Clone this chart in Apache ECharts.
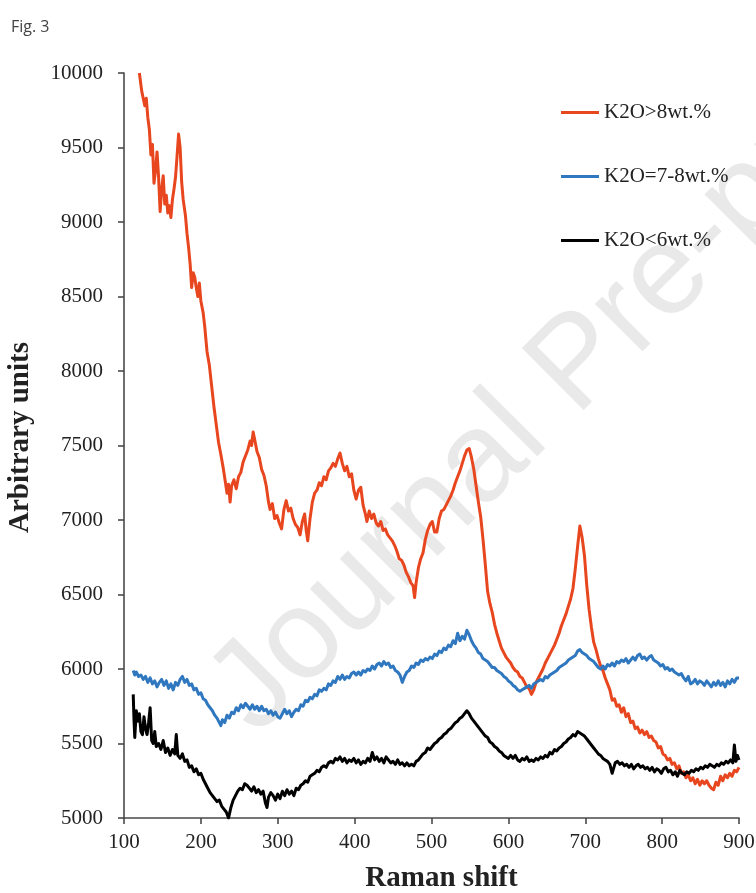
<!DOCTYPE html>
<html>
<head>
<meta charset="utf-8">
<script src="https://cdn.jsdelivr.net/npm/echarts@6/dist/echarts.min.js"></script>
<style>
  html, body { margin: 0; padding: 0; background: #ffffff; }
  #chart { width: 756px; height: 893px; }
</style>
</head>
<body>
<div id="chart"></div>
<script>
// Raman spectra, [Raman shift, intensity] pairs per K2O group
const seriesNames = ['K2O>8wt.%', 'K2O=7-8wt.%', 'K2O<6wt.%'];
const seriesColors = ['#e8461e', '#2f77bf', '#000000'];

const highK = [[120,10000],[123,9880],[125,9890],[127,9780],[129,9830],[131,9700],[133,9620],[135,9450],[137,9520],[139,9260],[141,9350],[143,9470],[145,9300],[147,9070],[149,9220],[151,9310],[153,9120],[155,9180],[157,9060],[159,9110],[161,9030],[163,9150],[165,9220],[167,9300],[169,9440],[171,9590],[173,9500],[175,9270],[177,9150],[180,9040],[182,8920],[184,8830],[186,8720],[188,8560],[190,8660],[192,8630],[194,8560],[196,8500],[198,8590],[200,8470],[203,8390],[205,8300],[208,8130],[211,8040],[214,7900],[217,7760],[220,7640],[223,7520],[226,7440],[229,7350],[232,7250],[234,7180],[236,7240],[238,7120],[240,7230],[243,7270],[246,7210],[249,7290],[252,7320],[255,7390],[258,7430],[261,7470],[264,7530],[266,7500],[268,7590],[270,7540],[273,7460],[276,7420],[279,7340],[282,7300],[285,7230],[288,7120],[290,7070],[293,7110],[296,7010],[299,7030],[302,6980],[305,6940],[308,7070],[311,7130],[314,7060],[317,7080],[320,7010],[323,6970],[326,6950],[329,6900],[332,6990],[335,7040],[337,6930],[339,6860],[342,7010],[345,7120],[348,7180],[351,7200],[354,7250],[357,7230],[360,7290],[363,7270],[366,7330],[369,7350],[372,7380],[375,7360],[378,7410],[381,7450],[384,7380],[387,7330],[390,7360],[393,7290],[396,7310],[399,7200],[402,7140],[405,7200],[408,7220],[411,7100],[414,7040],[416,6990],[419,7060],[422,7010],[425,7040],[428,6980],[431,6960],[434,6990],[437,6930],[440,6940],[443,6900],[446,6880],[449,6860],[452,6830],[455,6790],[458,6740],[461,6730],[464,6700],[467,6650],[470,6620],[473,6580],[476,6560],[478,6480],[480,6580],[483,6680],[486,6740],[489,6780],[492,6870],[495,6930],[498,6970],[501,6990],[504,6920],[507,6920],[510,7010],[513,7060],[516,7070],[519,7100],[522,7130],[525,7160],[528,7200],[531,7250],[534,7290],[537,7330],[540,7380],[543,7430],[546,7470],[549,7480],[552,7420],[555,7340],[558,7230],[561,7120],[564,7020],[567,6870],[570,6700],[573,6520],[576,6440],[579,6380],[582,6300],[585,6240],[588,6190],[591,6140],[594,6110],[597,6080],[600,6060],[603,6040],[606,6010],[609,5990],[612,5980],[615,5950],[618,5940],[621,5910],[624,5880],[627,5870],[630,5830],[633,5860],[636,5910],[639,5940],[642,5970],[645,6000],[648,6040],[651,6070],[654,6100],[657,6130],[660,6160],[663,6200],[666,6240],[669,6290],[672,6330],[675,6370],[678,6420],[681,6470],[684,6540],[687,6670],[690,6820],[693,6960],[696,6880],[699,6760],[702,6560],[705,6400],[708,6280],[711,6180],[714,6130],[717,6070],[720,6020],[723,5990],[726,5940],[729,5900],[732,5860],[735,5790],[738,5800],[741,5750],[744,5760],[747,5710],[750,5740],[753,5680],[756,5700],[759,5640],[762,5650],[765,5600],[768,5610],[771,5570],[774,5590],[777,5560],[780,5580],[783,5540],[786,5550],[789,5520],[792,5510],[795,5470],[798,5480],[801,5430],[804,5420],[807,5390],[810,5400],[813,5360],[816,5370],[819,5330],[822,5350],[825,5300],[828,5310],[831,5270],[834,5290],[837,5250],[840,5270],[843,5230],[846,5260],[849,5220],[852,5250],[855,5230],[858,5250],[861,5220],[864,5200],[867,5190],[870,5240],[873,5220],[876,5280],[879,5250],[882,5290],[885,5270],[888,5300],[891,5280],[894,5320],[897,5310],[900,5340]];

const midK = [[112,5990],[114,5960],[116,5980],[119,5950],[122,5960],[125,5930],[128,5950],[131,5910],[134,5940],[137,5900],[140,5920],[143,5880],[146,5910],[149,5930],[152,5890],[155,5920],[158,5870],[161,5900],[164,5860],[167,5910],[170,5890],[173,5930],[176,5950],[179,5910],[182,5930],[185,5890],[188,5900],[191,5860],[194,5870],[197,5830],[200,5840],[203,5800],[206,5790],[209,5760],[212,5740],[215,5720],[218,5690],[221,5670],[224,5640],[226,5620],[228,5660],[231,5640],[234,5690],[237,5670],[240,5710],[243,5700],[246,5740],[249,5720],[252,5760],[255,5740],[258,5770],[261,5750],[264,5730],[267,5760],[270,5730],[273,5750],[276,5720],[279,5750],[282,5720],[285,5730],[288,5700],[291,5720],[294,5690],[297,5710],[300,5680],[303,5670],[306,5700],[309,5730],[312,5700],[315,5720],[318,5680],[321,5710],[324,5730],[327,5720],[330,5760],[333,5750],[336,5790],[339,5780],[342,5810],[345,5800],[348,5830],[351,5820],[354,5860],[357,5850],[360,5870],[363,5860],[366,5900],[369,5890],[372,5920],[375,5910],[378,5950],[381,5930],[384,5960],[387,5930],[390,5950],[393,5940],[396,5970],[399,5980],[402,5960],[405,5980],[408,5960],[411,5990],[414,5980],[417,6000],[420,5990],[423,6020],[426,6000],[429,6030],[432,6040],[435,6020],[438,6050],[441,6030],[444,6040],[447,6010],[450,6020],[453,5990],[456,5980],[459,5960],[462,5910],[465,5950],[468,5980],[471,5990],[474,6020],[477,6010],[480,6040],[483,6030],[486,6060],[489,6050],[492,6070],[495,6060],[498,6080],[501,6070],[504,6100],[507,6090],[510,6120],[513,6110],[516,6140],[519,6130],[522,6160],[525,6150],[528,6190],[531,6170],[534,6240],[537,6190],[540,6220],[543,6200],[546,6260],[549,6230],[552,6190],[555,6160],[558,6140],[561,6110],[564,6100],[567,6070],[570,6060],[573,6050],[576,6030],[579,6010],[582,6010],[585,5990],[588,5980],[591,5970],[594,5950],[597,5940],[600,5920],[603,5910],[606,5890],[609,5880],[612,5860],[615,5850],[618,5860],[621,5870],[624,5880],[627,5890],[630,5870],[633,5900],[636,5910],[639,5920],[642,5930],[645,5920],[648,5950],[651,5940],[654,5960],[657,5970],[660,5980],[663,5990],[666,6010],[669,6020],[672,6030],[675,6040],[678,6060],[681,6070],[684,6080],[687,6090],[690,6120],[693,6130],[696,6110],[699,6100],[702,6090],[705,6070],[708,6060],[711,6050],[714,6030],[717,6010],[720,6000],[723,6020],[726,6000],[729,6030],[732,6020],[735,6040],[738,6020],[741,6050],[744,6040],[747,6060],[750,6050],[753,6070],[756,6040],[759,6060],[762,6080],[765,6060],[768,6090],[771,6100],[774,6070],[777,6080],[780,6060],[783,6080],[786,6090],[789,6060],[792,6050],[795,6040],[798,6020],[801,6030],[804,6000],[807,6010],[810,5990],[813,6000],[816,5980],[819,5970],[822,5960],[825,5970],[828,5940],[831,5920],[834,5950],[837,5900],[840,5910],[843,5930],[846,5900],[849,5920],[852,5910],[855,5890],[858,5920],[861,5900],[864,5880],[867,5910],[870,5890],[873,5920],[876,5890],[879,5910],[882,5880],[885,5920],[888,5900],[891,5930],[894,5910],[897,5940],[900,5940]];

const lowK = [[112,5830],[113,5660],[114,5540],[116,5720],[118,5650],[120,5700],[122,5580],[124,5560],[126,5680],[128,5600],[130,5560],[132,5640],[134,5740],[136,5520],[138,5500],[140,5580],[142,5480],[145,5500],[148,5460],[151,5520],[154,5440],[157,5470],[160,5420],[163,5460],[166,5430],[168,5560],[170,5420],[173,5400],[176,5430],[179,5380],[182,5390],[185,5340],[188,5350],[191,5310],[194,5330],[197,5290],[200,5300],[203,5260],[206,5230],[209,5200],[212,5170],[215,5150],[218,5130],[221,5110],[224,5120],[227,5080],[230,5060],[233,5040],[236,5000],[239,5070],[242,5120],[245,5150],[248,5180],[251,5200],[254,5190],[257,5230],[260,5220],[263,5200],[266,5180],[269,5210],[272,5170],[275,5190],[278,5160],[281,5180],[284,5100],[286,5070],[288,5140],[291,5170],[294,5150],[297,5120],[300,5160],[303,5130],[306,5180],[309,5150],[312,5190],[315,5160],[318,5180],[321,5150],[324,5200],[327,5190],[330,5220],[333,5230],[336,5250],[339,5240],[342,5280],[345,5290],[348,5300],[351,5320],[354,5310],[357,5340],[360,5350],[363,5340],[366,5370],[369,5380],[372,5370],[375,5400],[378,5390],[381,5410],[384,5380],[387,5400],[390,5370],[393,5390],[396,5380],[399,5400],[402,5370],[405,5390],[408,5360],[411,5380],[414,5370],[417,5400],[420,5380],[423,5440],[426,5390],[429,5410],[432,5380],[435,5400],[438,5370],[441,5410],[444,5390],[447,5370],[450,5380],[453,5360],[456,5390],[459,5360],[462,5370],[465,5350],[468,5370],[471,5350],[474,5360],[477,5350],[480,5380],[483,5390],[486,5410],[489,5430],[492,5440],[495,5470],[498,5460],[501,5480],[504,5500],[507,5510],[510,5530],[513,5540],[516,5560],[519,5570],[522,5590],[525,5600],[528,5620],[531,5640],[534,5650],[537,5670],[540,5680],[543,5700],[546,5720],[549,5700],[552,5670],[555,5650],[558,5630],[561,5610],[564,5590],[567,5570],[570,5550],[573,5540],[576,5510],[579,5500],[582,5480],[585,5470],[588,5450],[591,5440],[594,5420],[597,5410],[600,5400],[603,5420],[606,5400],[609,5420],[612,5390],[615,5380],[618,5400],[621,5390],[624,5410],[627,5380],[630,5390],[633,5380],[636,5400],[639,5390],[642,5410],[645,5400],[648,5420],[651,5410],[654,5440],[657,5430],[660,5460],[663,5450],[666,5470],[669,5480],[672,5500],[675,5510],[678,5530],[681,5540],[684,5560],[687,5550],[690,5580],[693,5570],[696,5560],[699,5550],[702,5530],[705,5510],[708,5490],[711,5470],[714,5450],[717,5430],[720,5420],[723,5400],[726,5390],[729,5380],[732,5360],[735,5300],[737,5310],[739,5370],[742,5380],[745,5360],[748,5370],[751,5350],[754,5360],[757,5340],[760,5360],[763,5330],[766,5350],[769,5360],[772,5340],[775,5350],[778,5330],[781,5340],[784,5320],[787,5340],[790,5310],[793,5330],[796,5320],[799,5300],[802,5330],[805,5340],[808,5310],[811,5320],[814,5290],[817,5310],[820,5280],[823,5320],[826,5300],[829,5290],[832,5310],[835,5300],[838,5320],[841,5310],[844,5330],[847,5320],[850,5340],[853,5330],[856,5350],[859,5340],[862,5360],[865,5350],[868,5340],[871,5360],[874,5350],[877,5370],[880,5360],[883,5380],[886,5370],[889,5390],[892,5370],[894,5490],[896,5380],[898,5420],[900,5390]];

const shiftTicks = { min: 100, max: 900, step: 100 };
const intensityTicks = { min: 5000, max: 10000, step: 500 };

const serif = '"Liberation Serif", "Times New Roman", serif';
const chart = echarts.init(document.getElementById('chart'), null, { renderer: 'canvas' });

const axisCommon = {
  axisLine: { show: true, lineStyle: { color: '#4a4a4a', width: 1.6 } },
  axisTick: { show: true, inside: false, length: 6, lineStyle: { color: '#4a4a4a', width: 1.6 } },
  splitLine: { show: false },
  axisLabel: { fontFamily: serif, fontSize: 21, color: '#222', formatter: v => String(v) },
  nameTextStyle: { fontFamily: serif, fontSize: 29, fontWeight: 'bold', color: '#222' }
};

chart.setOption({
  backgroundColor: '#ffffff',
  animation: false,
  title: {
    text: 'Fig. 3', left: 11, top: 19, padding: 0,
    textStyle: { fontFamily: '"Open Sans", "Liberation Sans", sans-serif', fontSize: 16, fontWeight: 'normal', color: '#444' }
  },
  graphic: [{
    type: 'text', z: -10, silent: true,
    x: 232, y: 712, rotation: Math.PI / 4,
    style: {
      text: 'Journal Pre-proof',
      font: '127px "Liberation Sans", Arial, sans-serif',
      fill: '#e9e9e9', align: 'left', verticalAlign: 'middle'
    }
  }],
  legend: {
    orient: 'vertical', left: 561, top: 102, padding: 0,
    itemWidth: 38, itemHeight: 3, itemGap: 43, icon: 'rect',
    textStyle: { fontFamily: serif, fontSize: 21, color: '#222', lineHeight: 20 },
    data: seriesNames
  },
  grid: { left: 124, right: 17, top: 73, bottom: 75, containLabel: false, outerBoundsMode: 'none' },
  xAxis: Object.assign({}, axisCommon, {
    type: 'value', min: shiftTicks.min, max: shiftTicks.max, interval: shiftTicks.step,
    name: 'Raman shift', nameLocation: 'middle', nameGap: 46,
    axisLabel: Object.assign({}, axisCommon.axisLabel, { margin: 14 }),
    nameTextStyle: Object.assign({}, axisCommon.nameTextStyle, { padding: [0, 0, 0, 20] })
  }),
  yAxis: Object.assign({}, axisCommon, {
    type: 'value', min: intensityTicks.min, max: intensityTicks.max, interval: intensityTicks.step,
    name: 'Arbitrary units', nameLocation: 'middle', nameGap: 89, nameRotate: 90,
    axisLabel: Object.assign({}, axisCommon.axisLabel, { margin: 21 }),
    nameTextStyle: Object.assign({}, axisCommon.nameTextStyle, { padding: [0, 0, 0, 16] })
  }),
  series: [highK, midK, lowK].map((d, i) => ({
    name: seriesNames[i], type: 'line', data: d,
    showSymbol: false, symbol: 'none', smooth: false,
    color: seriesColors[i],
    lineStyle: { color: seriesColors[i], width: 3, join: 'round' },
    z: 2 + i
  }))
});
</script>
</body>
</html>
